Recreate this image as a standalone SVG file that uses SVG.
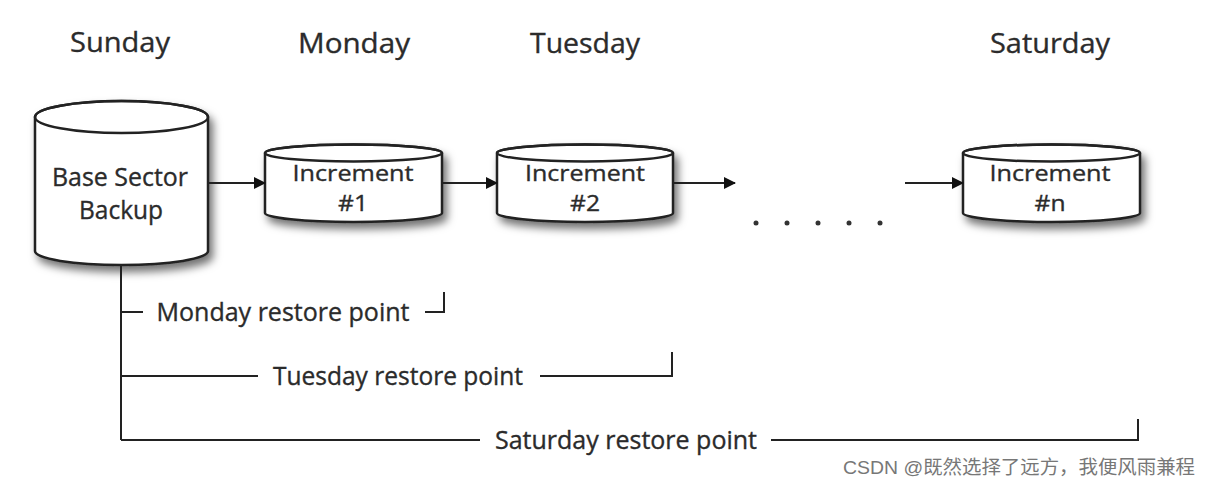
<svg xmlns="http://www.w3.org/2000/svg" width="1210" height="487" viewBox="0 0 1210 487">
<defs>
<filter id="sh" x="-20%" y="-20%" width="150%" height="160%">
<feDropShadow dx="4" dy="6" stdDeviation="4" flood-color="#000" flood-opacity="0.55"/>
</filter>
<marker id="ah" markerWidth="12" markerHeight="12" refX="11" refY="6" orient="auto" markerUnits="userSpaceOnUse">
<path d="M0,0 L12,6 L0,12 Z" fill="#111"/>
</marker>
<style>
.cyl{fill:#fff;stroke:#222;stroke-width:2.5}
.t{font-family:"Open Sans","Liberation Sans",sans-serif;fill:#2b2b2b;text-anchor:middle;stroke:#2b2b2b;stroke-width:0.35}
.day{font-size:28px}
.lbl{font-size:25px}
.node{font-size:25px}
.inc{font-size:22px}
.ln{fill:none;stroke:#222;stroke-width:2}
.wm{font-family:"Liberation Sans","Noto Sans CJK SC",sans-serif;font-size:19px;fill:#777}
</style>
</defs>
<rect width="1210" height="487" fill="#fff"/>

<g id="day-labels">
<text class="t day" x="120" y="52" textLength="100" lengthAdjust="spacingAndGlyphs">Sunday</text>
<text class="t day" x="354" y="53" textLength="112" lengthAdjust="spacingAndGlyphs">Monday</text>
<text class="t day" x="585" y="53" textLength="110" lengthAdjust="spacingAndGlyphs">Tuesday</text>
<text class="t day" x="1050" y="53" textLength="120" lengthAdjust="spacingAndGlyphs">Saturday</text>
</g>

<g id="base-backup">
<path class="cyl" filter="url(#sh)" d="M35,117 L35,251 A86.5,14 0 0 0 208,251 L208,117 A86.5,16 0 0 0 35,117 Z"/>
<ellipse cx="121.5" cy="117" rx="86.5" ry="16" fill="none" stroke="#222" stroke-width="2.5"/>
<text class="t node" x="120" y="186" textLength="136" lengthAdjust="spacingAndGlyphs">Base Sector</text>
<text class="t node" x="121" y="219" textLength="84" lengthAdjust="spacingAndGlyphs">Backup</text>
</g>

<g id="inc1">
<path class="cyl" filter="url(#sh)" d="M265,153 L265,213 A88.5,9 0 0 0 442,213 L442,153 A88.5,8.5 0 0 0 265,153 Z"/>
<ellipse cx="353.5" cy="153" rx="88.5" ry="8.5" fill="none" stroke="#222" stroke-width="2.5"/>
<text class="t inc" x="353" y="181" textLength="121" lengthAdjust="spacingAndGlyphs">Increment</text>
<text class="t inc" x="353" y="211" textLength="30" lengthAdjust="spacingAndGlyphs">#1</text>
</g>

<g id="inc2">
<path class="cyl" filter="url(#sh)" d="M497,153 L497,213 A88,9 0 0 0 673,213 L673,153 A88,8.5 0 0 0 497,153 Z"/>
<ellipse cx="585" cy="153" rx="88" ry="8.5" fill="none" stroke="#222" stroke-width="2.5"/>
<text class="t inc" x="585" y="181" textLength="120" lengthAdjust="spacingAndGlyphs">Increment</text>
<text class="t inc" x="585" y="211" textLength="30" lengthAdjust="spacingAndGlyphs">#2</text>
</g>

<g id="incn">
<path class="cyl" filter="url(#sh)" d="M963,153 L963,213 A88.5,9 0 0 0 1140,213 L1140,153 A88.5,8.5 0 0 0 963,153 Z"/>
<ellipse cx="1051.5" cy="153" rx="88.5" ry="8.5" fill="none" stroke="#222" stroke-width="2.5"/>
<text class="t inc" x="1050" y="181" textLength="121" lengthAdjust="spacingAndGlyphs">Increment</text>
<text class="t inc" x="1050" y="211" textLength="31" lengthAdjust="spacingAndGlyphs">#n</text>
</g>

<g id="ellipsis" fill="#333">
<circle cx="756" cy="223" r="2.5"/>
<circle cx="787" cy="223" r="2.5"/>
<circle cx="818" cy="223" r="2.5"/>
<circle cx="849" cy="223" r="2.5"/>
<circle cx="880" cy="223" r="2.5"/>
</g>

<g id="connectors">
<line class="ln" x1="209" y1="183" x2="265" y2="183" marker-end="url(#ah)"/>
<line class="ln" x1="443" y1="183" x2="497" y2="183" marker-end="url(#ah)"/>
<line class="ln" x1="674" y1="183" x2="735" y2="183" marker-end="url(#ah)"/>
<line class="ln" x1="905" y1="183" x2="963" y2="183" marker-end="url(#ah)"/>
<line class="ln" x1="121" y1="266" x2="121" y2="440"/>
<line class="ln" x1="121" y1="312" x2="143" y2="312"/>
<path class="ln" d="M425,312 L444,312 L444,292"/>
<line class="ln" x1="121" y1="376" x2="258" y2="376"/>
<path class="ln" d="M540,376 L672,376 L672,352"/>
<path class="ln" d="M121,440 L480,440"/>
<path class="ln" d="M771,440 L1138,440 L1138,419"/>
</g>

<g id="restore-labels">
<text class="t lbl" x="283" y="321" textLength="253" lengthAdjust="spacingAndGlyphs">Monday restore point</text>
<text class="t lbl" x="398" y="385" textLength="250" lengthAdjust="spacingAndGlyphs">Tuesday restore point</text>
<text class="t lbl" x="626" y="449" textLength="262" lengthAdjust="spacingAndGlyphs">Saturday restore point</text>
</g>

<text class="wm" x="843" y="474" textLength="352" lengthAdjust="spacingAndGlyphs">CSDN @既然选择了远方，我便风雨兼程</text>
</svg>
